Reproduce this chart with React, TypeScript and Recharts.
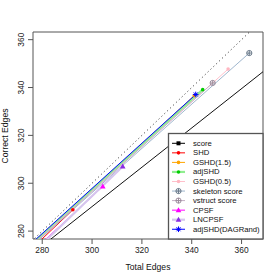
import React from 'react';
import { ComposedChart, Line, XAxis, YAxis, ReferenceLine, ReferenceArea } from 'recharts';

// series, legend order
const seriesNames = [
  'score',
  'SHD',
  'GSHD(1.5)',
  'adjSHD',
  'GSHD(0.5)',
  'skeleton score',
  'vstruct score',
  'CPSF',
  'LNCPSF',
  'adjSHD(DAGRand)',
];
// start and end of each series (total edges / correct edges)
const startTotal = [268.0, 273.1, 271.5, 271.0, 271.5, 271.8, 271.6, 274.5, 275.4, 270.5];
const startCorrect = [266, 270, 270, 270, 270, 270, 270, 270, 270, 270];
const endTotal = [277.0, 292.3, 341.0, 344.4, 354.6, 363.1, 348.4, 304.3, 312.3, 341.6];
const endCorrect = [274.5, 288.9, 336.6, 339.1, 347.7, 354.4, 341.9, 298.6, 307.0, 337.1];

// lower bound line and the y = x diagonal
const boundTotal = [283.5, 368.6];
const boundCorrect = [276.7, 346.6];
const diagonal = [270, 370];

const xTicks = [280, 300, 320, 340, 360];
const yTicks = [280, 300, 320, 340, 360];

const xDomain = [276.3, 368.6];
const yDomain = [276.7, 363.2];

const lineColors = ['#000000', '#FF0000', '#FFA500', '#90EE90', '#FFC0CB', '#9FB6CD', '#C4AFC4', '#FF00FF', '#D6C6EE', '#0000FF'];
const markerColors = ['#000000', '#FF0000', '#FFA500', '#00CD00', '#FFB6C1', '#6C7B8B', '#9C8C9C', '#FF00FF', '#8A2BE2', '#0000FF'];
const lineWidths = [1, 1, 1, 2.2, 1, 1, 1, 1, 2.2, 1];
const markers = ['square', 'dot', 'dot', 'dot', 'dot', 'circplus', 'circplus', 'triangle', 'triangle', 'star'];

const FONT = '"Liberation Sans", Arial, Helvetica, sans-serif';
const AXIS = '#555';

const Marker = ({ kind, x, y, color }: { kind: string; x: number; y: number; color: string }) => {
  switch (kind) {
    case 'square':
      return <rect x={x - 2} y={y - 2} width={4} height={4} fill={color} />;
    case 'dot':
      return <circle cx={x} cy={y} r={1.8} fill={color} />;
    case 'circplus':
      return (
        <g stroke={color} fill="none" strokeWidth={1}>
          <circle cx={x} cy={y} r={2.6} />
          <line x1={x - 2.6} x2={x + 2.6} y1={y} y2={y} />
          <line x1={x} x2={x} y1={y - 2.6} y2={y + 2.6} />
        </g>
      );
    case 'triangle':
      return <polygon points={`${x},${y - 3} ${x - 2.8},${y + 2} ${x + 2.8},${y + 2}`} fill={color} />;
    case 'star':
      return (
        <g stroke={color} strokeWidth={1}>
          <line x1={x - 2.8} x2={x + 2.8} y1={y} y2={y} />
          <line x1={x} x2={x} y1={y - 2.8} y2={y + 2.8} />
          <line x1={x - 2} x2={x + 2} y1={y - 2} y2={y + 2} />
          <line x1={x - 2} x2={x + 2} y1={y + 2} y2={y - 2} />
        </g>
      );
    default:
      return null;
  }
};

const XTick = ({ x, payload }: any) => (
  <text x={x} y={250} textAnchor="middle" dominantBaseline="central" fontSize={8.4} fontFamily={FONT} fill="#222">
    {payload.value}
  </text>
);

const YTick = ({ y, payload }: any) => (
  <text
    x={21}
    y={y}
    textAnchor="middle"
    dominantBaseline="central"
    fontSize={8.4}
    fontFamily={FONT}
    fill="#222"
    transform={`rotate(-90, 21, ${y})`}
  >
    {payload.value}
  </text>
);

const App = () => {
  const seriesData = seriesNames.map((name, i) => ({
    name,
    points: [
      { x: startTotal[i], y: startCorrect[i] },
      { x: endTotal[i], y: endCorrect[i] },
    ],
  }));

  const legendTop = 143.3;
  const legendStep = 9.55;

  return (
    <div style={{ position: 'absolute', left: 0, top: 0, width: 280, height: 280, background: '#fff' }}>
      <ComposedChart width={280} height={280} margin={{ top: 32, right: 17, bottom: 0, left: 0 }}>
        <XAxis
          type="number"
          dataKey="x"
          domain={xDomain}
          allowDataOverflow
          ticks={xTicks}
          tick={<XTick />}
          tickSize={5}
          tickLine={{ stroke: AXIS }}
          axisLine={false}
          height={41}
        />
        <YAxis
          type="number"
          dataKey="y"
          domain={yDomain}
          allowDataOverflow
          ticks={yTicks}
          tick={<YTick />}
          tickSize={5}
          tickLine={{ stroke: AXIS }}
          axisLine={false}
          width={33}
        />
        <ReferenceLine
          segment={[{ x: diagonal[0], y: diagonal[0] }, { x: diagonal[1], y: diagonal[1] }]}
          stroke="#222"
          strokeDasharray="1 3"
          ifOverflow="hidden"
        />
        <ReferenceLine
          segment={[{ x: boundTotal[0], y: boundCorrect[0] }, { x: boundTotal[1], y: boundCorrect[1] }]}
          stroke="#111"
          strokeWidth={1}
          ifOverflow="hidden"
        />
        {seriesData.map((s, i) => (
          <Line
            key={s.name}
            data={s.points}
            dataKey="y"
            name={s.name}
            stroke={lineColors[i]}
            strokeWidth={lineWidths[i]}
            isAnimationActive={false}
            dot={(p: any) =>
              p.index === 1 ? (
                <Marker key={`m-${i}`} kind={markers[i]} x={p.cx} y={p.cy} color={markerColors[i]} />
              ) : (
                <g key={`e-${i}-${p.index}`} />
              )
            }
            activeDot={false}
          />
        ))}
        <ReferenceArea
          x1={xDomain[0]}
          x2={xDomain[1]}
          y1={yDomain[0]}
          y2={yDomain[1]}
          fill="none"
          fillOpacity={0}
          stroke={AXIS}
          strokeWidth={1}
        />
      </ComposedChart>
      <svg
        width={280}
        height={280}
        style={{ position: 'absolute', left: 0, top: 0, pointerEvents: 'none' }}
        fontFamily={FONT}
      >
        <rect x={168.5} y={133.5} width={94.5} height={105.5} fill="#fff" stroke={AXIS} strokeWidth={1.3} />
        {seriesNames.map((name, i) => {
          const y = legendTop + i * legendStep;
          return (
            <g key={name}>
              <line x1={172} x2={185} y1={y} y2={y} stroke={lineColors[i]} strokeWidth={lineWidths[i]} />
              <Marker kind={markers[i]} x={178.5} y={y} color={markerColors[i]} />
              <text x={193} y={y} fontSize={7.7} dominantBaseline="central" fill="#111">
                {name}
              </text>
            </g>
          );
        })}
        <text x={148} y={267} fontSize={8.6} textAnchor="middle" dominantBaseline="central" fill="#111">
          Total Edges
        </text>
        <text
          x={5}
          y={136}
          fontSize={8.6}
          textAnchor="middle"
          dominantBaseline="central"
          fill="#111"
          transform="rotate(-90, 5, 136)"
        >
          Correct Edges
        </text>
      </svg>
    </div>
  );
};

export default App;
